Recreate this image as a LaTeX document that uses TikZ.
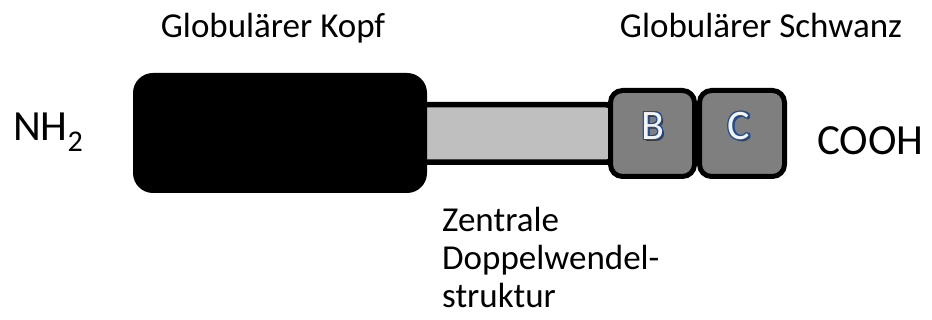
\documentclass[tikz,border=0pt]{standalone}
\usepackage{fontspec}
\setmainfont{Carlito}
\definecolor{barfill}{HTML}{BFBFBF}
\definecolor{domfill}{HTML}{7F7F7F}
\definecolor{letblue}{HTML}{1F4E9A}
\definecolor{letfill}{HTML}{F4F4F0}
\definecolor{letshadow}{HTML}{3A3A3A}
\tikzset{
  lbl/.style={inner sep=0pt, font=\fontsize{35}{38}\selectfont},
  endlbl/.style={inner sep=0pt, font=\fontsize{43}{46}\selectfont, anchor=base west},
  tailbox/.style={draw=black, fill=domfill, line width=5pt, rounded corners=12pt, inner sep=0pt},
  lettxt/.style={inner sep=0pt, font=\fontsize{42}{44}\selectfont}
}
\begin{document}
\begin{tikzpicture}[x=1pt,y=-1pt]
\useasboundingbox (0,0) rectangle (932,320);
% central rod
\node[draw=black, fill=barfill, line width=5.5pt, rounded corners=9pt, inner sep=0pt,
      minimum width=197.5pt, minimum height=57.5pt] (rod) at (516.5,133.5) {};
% head
\node[fill=black, rounded corners=20pt, inner sep=0pt,
      minimum width=294pt, minimum height=120pt] (head) at (280,133) {};
% tail domains
\node[tailbox, minimum width=84pt, minimum height=86pt] (domB) at (652.5,133.5) {};
\node[tailbox, minimum width=85pt, minimum height=86pt] (domC) at (742,133.5) {};
% letters with outline and shadow
\node[lettxt, text=letshadow] (shB) at (655,128) {B};
\node[lettxt, text=letshadow] (shC) at (741,128) {C};
\foreach \a in {0,30,...,330}{
  \node[lettxt, text=letblue, shift={(\a:1.4pt)}] at (653,126) {B};
  \node[lettxt, text=letblue, shift={(\a:1.4pt)}] at (739,126) {C};
}
\node[lettxt, text=letfill] (labB) at (653,126) {B};
\node[lettxt, text=letfill] (labC) at (739,126) {C};
% labels
\node[lbl, anchor=base] (kopf) at (273,38) {Globulärer Kopf};
\node[lbl, anchor=base] (schwanz) at (761,38) {Globulärer Schwanz};
\node[endlbl] (nh) at (13,141) {NH\textsubscript{2}};
\node[endlbl] (cooh) at (817,155) {COOH};
\node[lbl, anchor=base west] (zen) at (442,232) {Zentrale};
\node[lbl, anchor=base west] (dop) at (442,270) {Doppelwendel-};
\node[lbl, anchor=base west] (str) at (442,308) {struktur};
\end{tikzpicture}
\end{document}
